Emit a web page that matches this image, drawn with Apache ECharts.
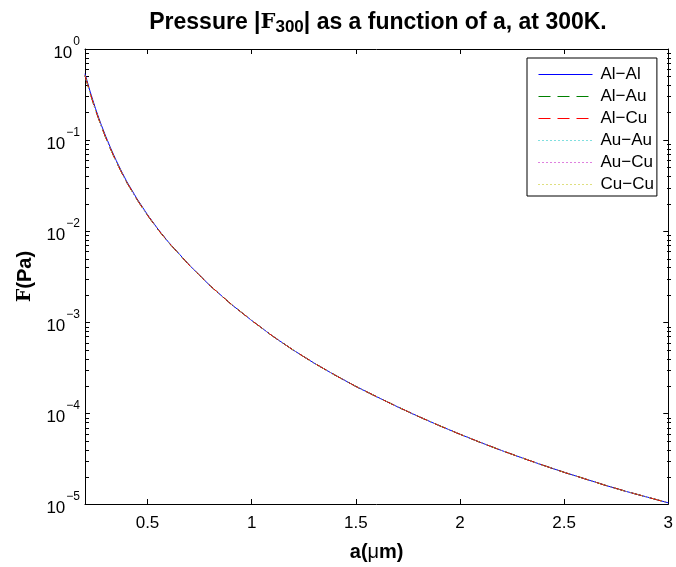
<!DOCTYPE html>
<html>
<head>
<meta charset="utf-8">
<script src="https://cdn.jsdelivr.net/npm/echarts@6/dist/echarts.min.js"></script>
<style>
  html, body { margin: 0; padding: 0; background: #fff; }
  #chart { width: 676px; height: 567px; }
</style>
</head>
<body>
<div id="chart"></div>
<script>
// separation a in micrometres
var aValues = [0.2, 0.225, 0.25, 0.275, 0.3, 0.325, 0.35, 0.375, 0.4, 0.45, 0.5, 0.55, 0.6, 0.7, 0.8, 0.9,
  1.0, 1.1, 1.2, 1.3, 1.4, 1.5, 1.6, 1.7, 1.8, 1.9, 2.0, 2.1, 2.2, 2.3, 2.4, 2.5, 2.6, 2.7, 2.8, 2.9, 3.0];

// |F_300| in Pa (the six curves nearly coincide)
var alAl = [0.535, 0.338, 0.223, 0.153, 0.109, 0.0795, 0.0594, 0.0453, 0.0351, 0.0225, 0.0151, 0.0105, 0.00758,
  0.00424, 0.00251, 0.00158, 0.00104, 7.02e-4, 4.91e-4, 3.53e-4, 2.61e-4, 1.96e-4, 1.51e-4, 1.17e-4,
  9.18e-5, 7.28e-5, 5.84e-5, 4.73e-5, 3.87e-5, 3.20e-5, 2.66e-5, 2.23e-5, 1.89e-5, 1.60e-5, 1.37e-5, 1.19e-5, 1.03e-5];
var alAu = [0.512, 0.324, 0.215, 0.148, 0.1055, 0.0772, 0.0578, 0.0442, 0.0343, 0.0221, 0.0149, 0.0104, 0.00752,
  0.00422, 0.00251, 0.00158, 0.00104, 7.02e-4, 4.91e-4, 3.53e-4, 2.61e-4, 1.96e-4, 1.51e-4, 1.17e-4,
  9.18e-5, 7.28e-5, 5.84e-5, 4.73e-5, 3.87e-5, 3.20e-5, 2.66e-5, 2.23e-5, 1.89e-5, 1.60e-5, 1.37e-5, 1.19e-5, 1.03e-5];
var alCu = [0.512, 0.324, 0.215, 0.148, 0.1055, 0.0772, 0.0578, 0.0442, 0.0343, 0.0221, 0.0149, 0.0104, 0.00752,
  0.00422, 0.00251, 0.00158, 0.00104, 7.02e-4, 4.91e-4, 3.53e-4, 2.61e-4, 1.96e-4, 1.51e-4, 1.17e-4,
  9.18e-5, 7.28e-5, 5.84e-5, 4.73e-5, 3.87e-5, 3.20e-5, 2.66e-5, 2.23e-5, 1.89e-5, 1.60e-5, 1.37e-5, 1.19e-5, 1.03e-5];
var auAu = [0.505, 0.320, 0.213, 0.147, 0.1048, 0.0768, 0.0575, 0.0440, 0.0342, 0.0220, 0.0149, 0.0104, 0.00750,
  0.00421, 0.00250, 0.00158, 0.00104, 7.01e-4, 4.90e-4, 3.53e-4, 2.61e-4, 1.96e-4, 1.51e-4, 1.17e-4,
  9.17e-5, 7.28e-5, 5.84e-5, 4.73e-5, 3.87e-5, 3.20e-5, 2.66e-5, 2.23e-5, 1.89e-5, 1.60e-5, 1.37e-5, 1.19e-5, 1.03e-5];
var auCu = [0.508, 0.322, 0.214, 0.147, 0.1051, 0.0770, 0.0577, 0.0441, 0.0342, 0.0221, 0.0149, 0.0104, 0.00751,
  0.00422, 0.00251, 0.00158, 0.00104, 7.02e-4, 4.91e-4, 3.53e-4, 2.61e-4, 1.96e-4, 1.51e-4, 1.17e-4,
  9.18e-5, 7.28e-5, 5.84e-5, 4.73e-5, 3.87e-5, 3.20e-5, 2.66e-5, 2.23e-5, 1.89e-5, 1.60e-5, 1.37e-5, 1.19e-5, 1.03e-5];
var cuCu = [0.510, 0.323, 0.214, 0.148, 0.1053, 0.0771, 0.0577, 0.0441, 0.0343, 0.0221, 0.0149, 0.0104, 0.00752,
  0.00422, 0.00251, 0.00158, 0.00104, 7.02e-4, 4.91e-4, 3.53e-4, 2.61e-4, 1.96e-4, 1.51e-4, 1.17e-4,
  9.18e-5, 7.28e-5, 5.84e-5, 4.73e-5, 3.87e-5, 3.20e-5, 2.66e-5, 2.23e-5, 1.89e-5, 1.60e-5, 1.37e-5, 1.19e-5, 1.03e-5];

var seriesNames = ['Al\u2212Al', 'Al\u2212Au', 'Al\u2212Cu', 'Au\u2212Au', 'Au\u2212Cu', 'Cu\u2212Cu'];
var seriesData = [alAl, alAu, alCu, auAu, auCu, cuCu];

var xTicks = [0.5, 1, 1.5, 2, 2.5, 3];
var yTicks = [1e-5, 1e-4, 1e-3, 1e-2, 1e-1, 1];
var yMinorTicks = [2e-5, 3e-5, 4e-5, 5e-5, 6e-5, 7e-5, 8e-5, 9e-5,
  2e-4, 3e-4, 4e-4, 5e-4, 6e-4, 7e-4, 8e-4, 9e-4,
  2e-3, 3e-3, 4e-3, 5e-3, 6e-3, 7e-3, 8e-3, 9e-3,
  0.02, 0.03, 0.04, 0.05, 0.06, 0.07, 0.08, 0.09,
  0.2, 0.3, 0.4, 0.5, 0.6, 0.7, 0.8, 0.9];

var colors = ['#0000ff', '#008000', '#ff0000', '#00bfbf', '#bf00bf', '#bfbf00'];
var dashes = ['solid', [12, 7], [12, 7], [1, 3], [1, 3], [1, 3]];

var font = 'Liberation Sans, Arial, Helvetica, sans-serif';
var serif = 'DejaVu Serif, Liberation Serif, serif';

var chart = echarts.init(document.getElementById('chart'));

function pairs(ys) {
  return aValues.map(function (a, i) { return [a, ys[i]]; });
}

var blackLine = { color: '#000', width: 1 };

function yMajorAxis(position, labels) {
  return {
    type: 'log',
    logBase: 10,
    gridIndex: 0,
    min: 1e-5,
    max: 1,
    position: position,
    axisLine: { show: true, lineStyle: blackLine },
    axisTick: { show: true, inside: true, length: 5, customValues: yTicks, lineStyle: blackLine },
    axisLabel: labels ? {
      show: true,
      customValues: yTicks,
      margin: 5,
      color: '#000',
      fontFamily: font,
      formatter: function (v) {
        var e = Math.round(Math.log10(v));
        return '{b|10}{s|' + (e < 0 ? '\u2212' + (-e) : e) + '}';
      },
      rich: {
        b: { fontSize: 17, fontFamily: font, color: '#000', verticalAlign: 'bottom', lineHeight: 26 },
        s: { fontSize: 12, fontFamily: font, color: '#000', verticalAlign: 'top', lineHeight: 26, padding: [0, 0, 10, 1] }
      }
    } : { show: false },
    splitLine: { show: false },
    name: labels ? '{m|F}(Pa)' : '',
    nameLocation: 'middle',
    nameGap: 50,
    nameTextStyle: {
      fontSize: 20, fontWeight: 'bold', fontFamily: font, color: '#000',
      rich: { m: { fontSize: 19, fontWeight: 'bold', fontFamily: serif, color: '#000' } }
    }
  };
}

// minor ticks of the log axis, drawn on a linear axis in exponent space
function yMinorAxis(position) {
  return {
    type: 'value',
    gridIndex: 1,
    min: -5,
    max: 0,
    position: position,
    axisLine: { show: false },
    axisTick: { show: true, inside: true, length: 4, customValues: yMinorTicks.map(Math.log10), lineStyle: blackLine },
    axisLabel: { show: false },
    splitLine: { show: false }
  };
}

function xAxisDef(grid, position, show, labels) {
  return {
    type: 'value',
    gridIndex: grid,
    show: show,
    min: 0.2,
    max: 3,
    position: position,
    axisLine: { show: true, onZero: false, lineStyle: blackLine },
    axisTick: { show: true, inside: true, length: 5, customValues: xTicks, lineStyle: blackLine },
    axisLabel: labels ? { show: true, customValues: xTicks, margin: 11, fontSize: 17, fontFamily: font, color: '#000' } : { show: false },
    splitLine: { show: false },
    name: labels ? 'a({u|\u03bc}m)' : '',
    nameLocation: 'middle',
    nameGap: 38,
    nameTextStyle: {
      fontSize: 20, fontWeight: 'bold', fontFamily: font, color: '#000',
      rich: { u: { fontSize: 20, fontWeight: 'normal', fontFamily: font, color: '#000' } }
    }
  };
}

var gridBox = { left: 85, right: 5, top: 49, bottom: 62, containLabel: false };

chart.setOption({
  animation: false,
  backgroundColor: '#fff',
  title: {
    text: 'Pressure |{m|F}{sub|300}| as a function of a, at 300K.',
    left: 373,
    textAlign: 'center',
    top: 4,
    textStyle: {
      fontSize: 23, fontWeight: 'bold', fontFamily: font, color: '#000',
      rich: {
        m: { fontSize: 21, fontWeight: 'bold', fontFamily: serif, color: '#000' },
        sub: { fontSize: 17, fontWeight: 'bold', fontFamily: font, color: '#000', verticalAlign: 'top', padding: [10, 0, 0, 0] }
      }
    }
  },
  grid: [gridBox, gridBox],
  legend: {
    orient: 'vertical',
    left: 527,
    top: 58,
    padding: [8, 3, 3, 11],
    itemWidth: 54,
    itemHeight: 14,
    itemGap: 5.0,
    borderColor: '#000',
    borderWidth: 1,
    borderRadius: 0,
    backgroundColor: '#fff',
    itemStyle: { opacity: 0, borderWidth: 0 },
    textStyle: { fontSize: 17, fontFamily: font, color: '#000', padding: [0, 0, 0, 3] },
    data: seriesNames.map(function (name, i) {
      return { name: name, lineStyle: { color: colors[i], width: 1, type: dashes[i], opacity: 1 } };
    })
  },
  xAxis: [
    xAxisDef(0, 'bottom', true, true),
    xAxisDef(0, 'top', true, false),
    xAxisDef(1, 'bottom', false, false)
  ],
  yAxis: [
    yMajorAxis('left', true),
    yMajorAxis('right', false),
    yMinorAxis('left'),
    yMinorAxis('right')
  ],
  series: seriesNames.map(function (name, i) {
    return {
      name: name,
      type: 'line',
      xAxisIndex: 0,
      yAxisIndex: 0,
      data: pairs(seriesData[i]),
      symbol: 'none',
      color: colors[i],
      lineStyle: { color: colors[i], width: 1, type: dashes[i] }
    };
  })
});
</script>
</body>
</html>
